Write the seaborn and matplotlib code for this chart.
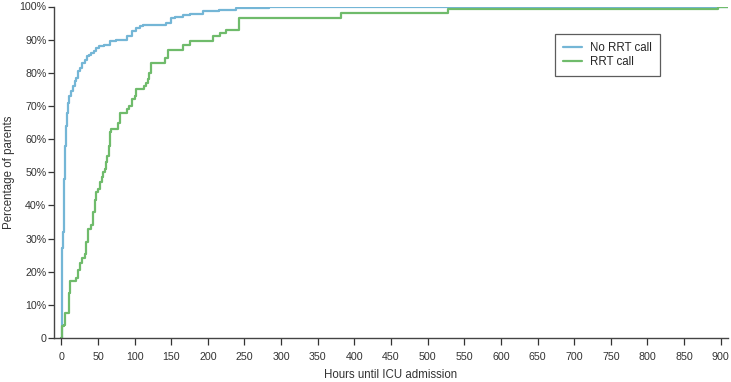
import matplotlib
matplotlib.use("Agg")
import matplotlib.pyplot as plt
import pandas as pd
import seaborn as sns
from matplotlib.ticker import FuncFormatter

# cumulative percentage of patients admitted to ICU by hours since admission
no_rrt_hours = [0, 0.5, 1, 1.5, 2.2, 3, 4, 4.5, 5.5, 6.8, 8, 9, 11, 13, 16, 18, 20,
                22.7, 25, 28, 32, 35, 38, 41, 45, 48, 52, 58, 66, 75, 80, 89, 96,
                102, 107, 111, 143, 150, 155, 166, 175, 193, 215, 239, 284, 910]
no_rrt_pct = [0, 12, 20, 27, 32, 40, 48, 52, 58, 64, 68, 71, 73, 74.5, 76, 77.5, 78.5,
              80.5, 81.5, 83, 84, 85, 85.5, 86, 86.5, 87.5, 88, 88.5, 89.5, 89.8, 90, 91, 92.5,
              93.5, 94, 94.5, 95, 96.5, 96.8, 97.5, 97.8, 98.5, 99, 99.5, 100, 100]

rrt_hours = [0, 1.5, 4, 5, 10, 11, 12.5, 20, 23, 25, 28, 32, 34, 36, 41, 43, 45.5, 47,
             50, 53, 55, 57, 59, 61, 63, 65, 66, 68, 77, 80, 89, 93, 96, 100, 102, 113,
             116, 118, 120, 123, 141, 146, 166, 175, 207, 216, 225, 243, 382, 528, 897, 910]
rrt_pct = [0, 3.5, 4, 7.5, 10, 13.5, 17.2, 18, 20.5, 22.5, 24, 25.3, 29, 33, 34, 38, 41.5, 44,
           45, 47, 48.5, 50, 51, 53, 55, 58, 62, 63, 65, 68, 69, 70, 72, 73, 75, 76,
           77, 78, 80, 83, 84.5, 87, 88.5, 89.5, 91, 92, 93, 96.5, 97.9, 99.1, 100, 100]

groups = ["No RRT call", "RRT call"]
colors = ["#74b6d6", "#6fbb6b"]

df = pd.concat([
    pd.DataFrame({"hours": no_rrt_hours, "pct": no_rrt_pct, "group": groups[0]}),
    pd.DataFrame({"hours": rrt_hours, "pct": rrt_pct, "group": groups[1]}),
])

sns.set_style("ticks")
plt.rcParams["font.family"] = ["Liberation Sans", "DejaVu Sans"]

W, H = 731, 382
fig = plt.figure(figsize=(W / 100, H / 100), dpi=100)
ax = fig.add_axes([54 / W, 1 - 338 / H, (728 - 54) / W, (338 - 6.5) / H])

sns.lineplot(data=df, x="hours", y="pct", hue="group", hue_order=groups,
             palette=colors, estimator=None, sort=False, drawstyle="steps-post",
             linewidth=1.6, ax=ax)

ax.set_xlim(-10, 910)
ax.set_ylim(0, 100)
ax.set_xticks(range(0, 901, 50))
ax.set_yticks(range(0, 101, 10))
ax.yaxis.set_major_formatter(FuncFormatter(lambda v, p: "0" if v == 0 else f"{v:.0f}%"))
ax.tick_params(labelsize=7.7, colors="#333333", length=4.5, width=0.9, pad=1)
ax.tick_params(axis="x", length=5, pad=5)
for s in ["top", "right"]:
    ax.spines[s].set_visible(False)
for s in ["left", "bottom"]:
    ax.spines[s].set_color("#444444")
    ax.spines[s].set_linewidth(1.0)

ax.set_xlabel("Hours until ICU admission", fontsize=8.3, color="#333333")
ax.set_ylabel("Percentage of parents", fontsize=8.3, color="#333333")
ax.xaxis.set_label_coords(391 / W, 1 - 369 / H, transform=fig.transFigure)
ax.yaxis.set_label_coords(15 / W, 1 - 172 / H, transform=fig.transFigure)

leg = ax.legend(loc="upper left", bbox_to_anchor=(555 / W, 1 - 34 / H),
                bbox_transform=fig.transFigure, fontsize=8.3,
                frameon=True, fancybox=False, handlelength=1.6, handletextpad=0.7,
                borderpad=0.7, labelspacing=0.2, borderaxespad=0)
leg.get_frame().set_edgecolor("#333333")
leg.get_frame().set_linewidth(0.9)

fig.savefig("out.png", dpi=100)
